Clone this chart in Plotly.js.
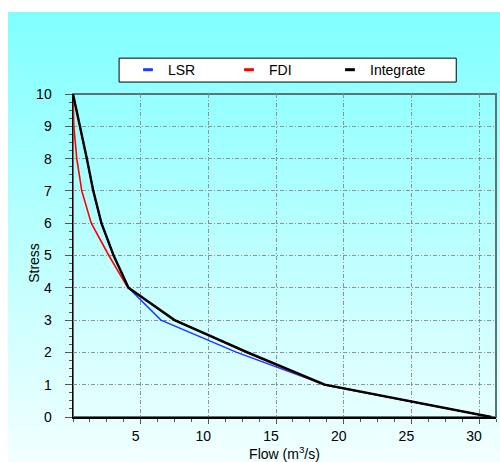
<!DOCTYPE html>
<html>
<head>
<meta charset="utf-8">
<script src="https://cdn.plot.ly/plotly-3.0.1.min.js"></script>
<style>
  html, body { margin: 0; padding: 0; background: #ffffff; }
  #chart {
    width: 500px; height: 462px;
    background: #ffffff linear-gradient(to bottom, #80ffff, #f2ffff) no-repeat 8px 12px / 492px 450px;
  }
</style>
</head>
<body>
<div id="chart"></div>
<script>
// Stress levels and the flow reached at each level by the three methods
const stress    = [10, 9, 8, 7, 6, 5, 4, 3, 2, 1, 0];
const lsr       = [0.0, 0.52, 1.02, 1.5, 2.1, 3.0, 4.1, 6.5, 12.1, 18.6, 30.9];
const fdi       = [0.0, 0.06, 0.28, 0.65, 1.35, 2.65, 4.05, 7.5, 12.8, 18.5, 30.9];
const integrate = [0.0, 0.52, 1.02, 1.5, 2.1, 3.0, 4.1, 7.5, 12.9, 18.6, 30.9];

const seriesNames  = ['LSR', 'FDI', 'Integrate'];
const seriesColors = ['#1a3cff', '#ff0000', '#000000'];
const seriesWidths = [1.5, 1.6, 2.4];
const seriesFlows  = [lsr, fdi, integrate];

const xTickVals = [5, 10, 15, 20, 25, 30];
const yTickVals = [0, 1, 2, 3, 4, 5, 6, 7, 8, 9, 10];

const font = 'Liberation Sans, Arial, Helvetica, sans-serif';

// curves (no legend entry of their own)
const traces = seriesFlows.map((flows, i) => ({
  x: flows, y: stress, type: 'scatter', mode: 'lines',
  line: { color: seriesColors[i], width: seriesWidths[i] },
  showlegend: false, hoverinfo: 'skip'
}));

// short dash symbols for the legend
seriesNames.forEach((name, i) => {
  traces.push({
    x: [null], y: [null], type: 'scatter', mode: 'markers', name: name,
    marker: { symbol: 'line-ew', size: 7, color: seriesColors[i],
              line: { color: seriesColors[i], width: 3 } },
    showlegend: true
  });
});

const gridStyle = { gridcolor: '#8a9494', gridwidth: 1, griddash: '4px,2px,1px,2px' };

const layout = {
  width: 500, height: 462,
  paper_bgcolor: 'rgba(0,0,0,0)', plot_bgcolor: 'rgba(0,0,0,0)',
  margin: { l: 73, r: 4, t: 94, b: 45 },
  font: { family: font, size: 14, color: '#000' },
  showlegend: true,
  legend: {
    orientation: 'h', x: 0.13, xanchor: 'left', y: 1.074, yanchor: 'middle',
    bgcolor: 'rgba(0,0,0,0)', borderwidth: 0,
    entrywidth: 56, entrywidthmode: 'pixels',
    font: { family: font, size: 14 }
  },
  xaxis: Object.assign({
    range: [0, 31.25], tickmode: 'array', tickvals: xTickVals,
    showline: true, linecolor: '#000', linewidth: 1.5,
    ticks: 'outside', ticklen: 5, tickcolor: '#555',
    ticklabelstandoff: 1, ticklabelshift: -5,
    minor: { tick0: 0, dtick: 1.25, ticks: 'outside', ticklen: 3, tickcolor: '#555', showgrid: false },
    zeroline: false,
    title: { text: 'Flow (m<sup>3</sup>/s)', font: { family: font, size: 14 }, standoff: 1 }
  }, gridStyle),
  yaxis: Object.assign({
    range: [0, 10], tickmode: 'array', tickvals: yTickVals,
    showline: true, linecolor: '#000', linewidth: 1.5,
    ticks: 'outside', ticklen: 7, tickcolor: '#555',
    ticklabelstandoff: 10,
    minor: { tick0: 0, dtick: 0.25, ticks: 'outside', ticklen: 3, tickcolor: '#555', showgrid: false },
    zeroline: false
  }, gridStyle),
  annotations: [
    // y-axis title
    { text: 'Stress', xref: 'paper', yref: 'paper', x: -0.094, y: 0.478,
      xanchor: 'center', yanchor: 'middle', textangle: -90, showarrow: false,
      font: { family: font, size: 14 } }
  ],
  shapes: [
    // frame around the plotting area
    { type: 'rect', xref: 'paper', yref: 'paper', x0: 0, x1: 1, y0: 0, y1: 1,
      line: { color: '#607272', width: 2 }, layer: 'below' },
    // legend box
    { type: 'rect', xref: 'paper', yref: 'paper', x0: 0.109, x1: 0.906, y0: 1.037, y1: 1.111,
      fillcolor: '#ffffff', line: { color: '#000', width: 1 }, layer: 'above' }
  ]
};

Plotly.newPlot('chart', traces, layout, { displayModeBar: false, staticPlot: true });
</script>
</body>
</html>
